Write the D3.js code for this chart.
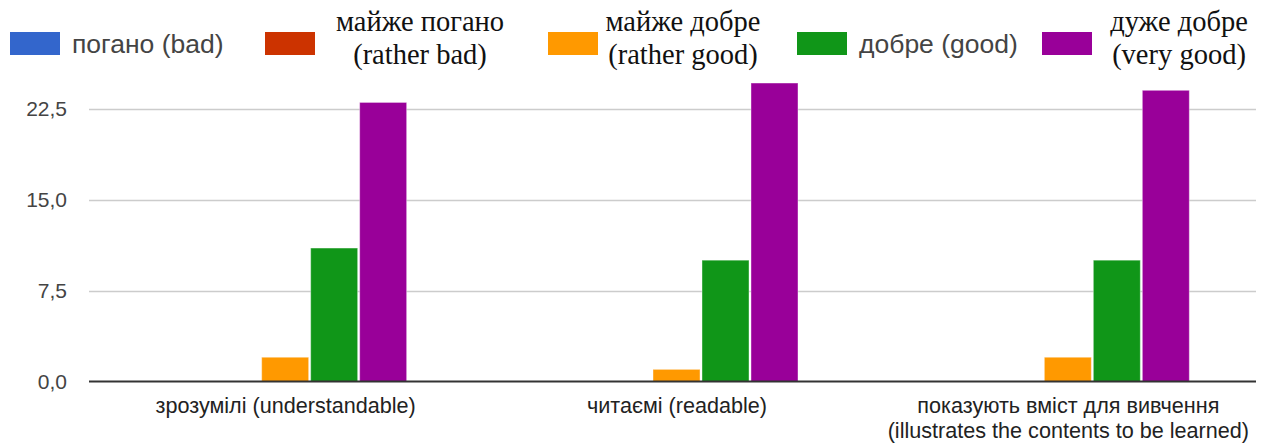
<!DOCTYPE html>
<html>
<head>
<meta charset="utf-8">
<script src="https://cdn.jsdelivr.net/npm/d3@7"></script>
<style>
  body { margin: 0; background: #fff; }
</style>
</head>
<body>
<script>
var width = 1268, height = 448;

// data
var categories = ["зрозумілі (understandable)", "читаємі (readable)",
                  "показують вміст для вивчення (illustrates the contents to be learned)"];
var categoryLines = [["зрозумілі (understandable)"], ["читаємі (readable)"],
                     ["показують вміст для вивчення", "(illustrates the contents to be learned)"]];
var seriesNames = ["bad", "rather bad", "rather good", "good", "very good"];
var seriesLabels = [["погано (bad)"], ["майже погано", "(rather bad)"],
                    ["майже добре", "(rather good)"], ["добре (good)"],
                    ["дуже добре", "(very good)"]];
var seriesSerif = [false, true, true, false, true];
var colors = ["#3366cc", "#cc3300", "#ff9900", "#109618", "#990099"];
var badVals = [0, 0, 0];
var ratherBadVals = [0, 0, 0];
var ratherGoodVals = [2, 1, 2];
var goodVals = [11, 10, 10];
var veryGoodVals = [23, 24.6, 24];
var tickVals = [0, 7.5, 15, 22.5];

var allVals = [badVals, ratherBadVals, ratherGoodVals, goodVals, veryGoodVals];

// layout
var plotLeft = 89, plotRight = 1256, base = 381.5, top225 = 108.5;
var legendX = [10, 265, 548, 797, 1042];

var svg = d3.select("body").append("svg")
  .attr("width", width).attr("height", height)
  .style("font-family", "Arial, 'Liberation Sans', sans-serif");

var y = d3.scaleLinear().domain([0, 22.5]).range([base, top225]);
var x0 = d3.scaleBand().domain(categories).range([90, 1264])
  .paddingInner(0.374).paddingOuter(0.187);
var x1 = d3.scaleBand().domain(seriesNames).range([0, x0.bandwidth()]);

var fmt = function(v) { return d3.format(".1f")(v).replace(".", ","); };

// grid
svg.append("g").selectAll("line").data(tickVals.slice(1))
  .enter().append("line")
  .attr("x1", plotLeft).attr("x2", plotRight)
  .attr("y1", function(d) { return Math.round(y(d)) + 0.5; })
  .attr("y2", function(d) { return Math.round(y(d)) + 0.5; })
  .attr("stroke", "#cccccc").attr("stroke-width", 1.5);

// y labels
svg.append("g").selectAll("text").data(tickVals)
  .enter().append("text")
  .attr("x", 67).attr("y", function(d) { return y(d); })
  .attr("dy", "0.36em").attr("text-anchor", "end")
  .attr("font-size", 21).attr("fill", "#444")
  .text(fmt);

// bars
var rows = categories.map(function(c, i) {
  return { cat: c, vals: seriesNames.map(function(s, j) {
    return { key: s, v: allVals[j][i], color: colors[j] }; }) };
});

var groups = svg.append("g").selectAll("g").data(rows)
  .enter().append("g")
  .attr("transform", function(d) { return "translate(" + x0(d.cat) + ",0)"; });

groups.selectAll("rect").data(function(d) { return d.vals.filter(function(e) { return e.v > 0; }); })
  .enter().append("rect")
  .attr("x", function(d) { return x1(d.key) + 0.5; })
  .attr("y", function(d) { return y(d.v); })
  .attr("width", x1.bandwidth() - 2)
  .attr("height", function(d) { return base - y(d.v); })
  .attr("fill", function(d) { return d.color; })
  .attr("stroke", "#ffffff").attr("stroke-opacity", 0.4).attr("stroke-width", 1);

// baseline
svg.append("line")
  .attr("x1", plotLeft).attr("x2", plotRight)
  .attr("y1", y(0)).attr("y2", y(0))
  .attr("stroke", "#333").attr("stroke-width", 2);

// x labels
var xl = svg.append("g").selectAll("text").data(categories)
  .enter().append("text")
  .attr("text-anchor", "middle").attr("font-size", 21.6).attr("fill", "#222")
  .attr("x", function(d) { return x0(d) + x0.bandwidth() / 2; })
  .attr("y", 413);
xl.selectAll("tspan").data(function(d, i) { return categoryLines[i]; })
  .enter().append("tspan")
  .attr("x", function() { var p = this.parentNode; return p.getAttribute("x"); })
  .attr("dy", function(d, i) { return i ? 25 : 0; })
  .text(function(d) { return d; });

// legend
var leg = svg.append("g").selectAll("g").data(seriesNames)
  .enter().append("g")
  .attr("transform", function(d, i) { return "translate(" + legendX[i] + ",0)"; });

leg.append("rect")
  .attr("x", 0).attr("y", 32).attr("width", 50).attr("height", 23)
  .attr("fill", function(d, i) { return colors[i]; });

leg.each(function(d, i) {
  var g = d3.select(this);
  if (!seriesSerif[i]) {
    g.append("text").attr("x", 62).attr("y", 53)
      .attr("font-size", 26.5).attr("fill", "#444")
      .text(seriesLabels[i][0]);
  } else {
    var t = g.append("text")
      .attr("font-family", "'Liberation Serif', 'Times New Roman', serif")
      .attr("font-size", 28.5).attr("fill", "#111").attr("text-anchor", "middle");
    var cx = [0, 155, 135, 0, 137][i];
    t.selectAll("tspan").data(seriesLabels[i]).enter().append("tspan")
      .attr("x", cx).attr("y", function(s, k) { return k ? 64 : 31; })
      .text(function(s) { return s; });
  }
});
</script>
</body>
</html>
